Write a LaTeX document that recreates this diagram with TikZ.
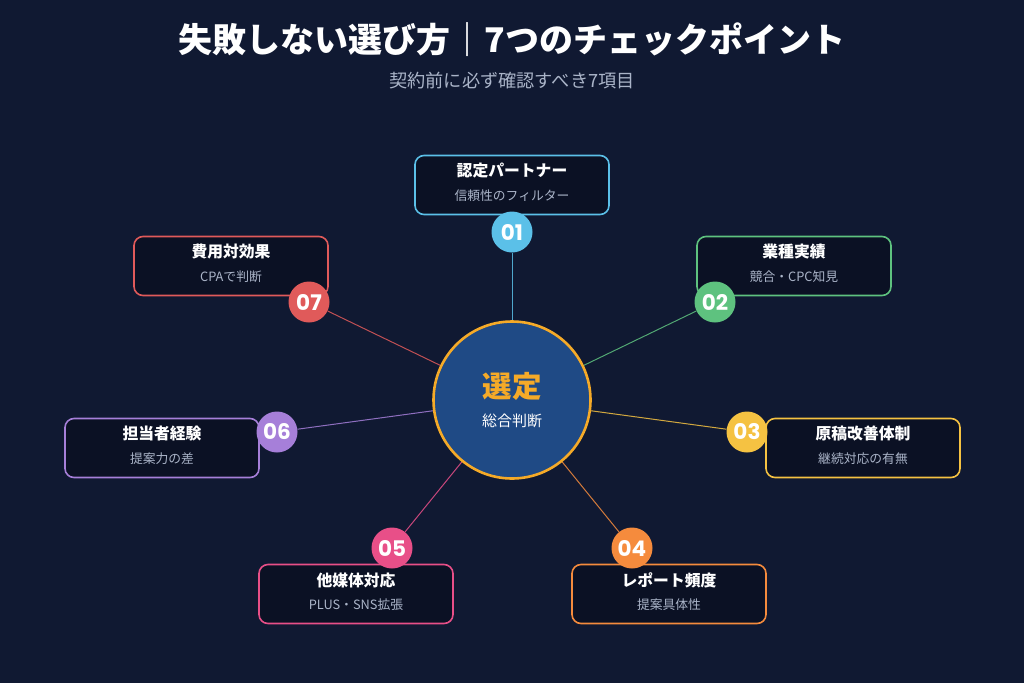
\documentclass[tikz,border=0pt]{standalone}
\usepackage{fontspec}
\setmainfont{Noto Sans CJK JP}
\newfontfamily\numfont{Poppins}
\pgfdeclarelayer{bg}
\pgfdeclarelayer{lines}
\pgfsetlayers{bg,lines,main}
\definecolor{bgc}{RGB}{16,25,50}
\definecolor{boxfill}{RGB}{11,17,36}
\definecolor{circfill}{RGB}{31,74,133}
\definecolor{gold}{RGB}{245,170,40}
\definecolor{subgray}{RGB}{170,180,200}
\definecolor{cA}{RGB}{91,192,232}
\definecolor{cB}{RGB}{94,194,127}
\definecolor{cC}{RGB}{245,194,66}
\definecolor{cD}{RGB}{245,139,61}
\definecolor{cE}{RGB}{232,79,136}
\definecolor{cF}{RGB}{166,127,217}
\definecolor{cG}{RGB}{224,90,90}
\tikzset{
  card/.style={draw=#1, line width=1.6pt, fill=boxfill, rounded corners=9pt,
    minimum width=194pt, minimum height=59pt, inner sep=0pt},
  badge/.style={circle, fill=#1, minimum size=41pt, inner sep=0pt, text=white,
    font=\numfont\bfseries\fontsize{21.5}{22}\selectfont},
  spoke/.style={draw=#1, line width=1pt, opacity=0.85},
  ttl/.style={text=white, font=\bfseries\fontsize{15.8}{17}\selectfont},
  sub/.style={text=subgray, font=\fontsize{12.8}{14}\selectfont},
}
\begin{document}
\begin{tikzpicture}[x=1pt,y=-1pt]
\begin{pgfonlayer}{bg}
\fill[bgc] (0,0) rectangle (1024,683);
\end{pgfonlayer}
\useasboundingbox (0,0) rectangle (1024,683);

\node[text=white, font=\bfseries\fontsize{34}{40}\selectfont] (title) at (512,40) {失敗しない選び方｜7つのチェックポイント};
\node[text=subgray, font=\fontsize{18.2}{20}\selectfont] (subtitle) at (512,81) {契約前に必ず確認すべき7項目};

% center
\node[circle, draw=gold, line width=2.6pt, fill=circfill, minimum size=157pt, inner sep=0pt] (c) at (512,400) {};
\node[text=gold, font=\bfseries\fontsize{29.5}{31}\selectfont] (ct) at (512,386) {選定};
\node[text=white, font=\fontsize{15}{16}\selectfont] (cs) at (512,421) {総合判断};

% cards
\node[card=cA] (k1) at (512,185) {};
\node[ttl] (k1t) at (512,171) {認定パートナー};
\node[sub] (k1s) at (512,196) {信頼性のフィルター};

\node[card=cB] (k2) at (794,266) {};
\node[ttl] (k2t) at (794,252) {業種実績};
\node[sub] (k2s) at (794,277) {競合・CPC知見};

\node[card=cC] (k3) at (863,448) {};
\node[ttl] (k3t) at (863,434) {原稿改善体制};
\node[sub] (k3s) at (863,459) {継続対応の有無};

\node[card=cD] (k4) at (669,594) {};
\node[ttl] (k4t) at (669,580) {レポート頻度};
\node[sub] (k4s) at (669,605) {提案具体性};

\node[card=cE] (k5) at (356,594) {};
\node[ttl] (k5t) at (356,580) {他媒体対応};
\node[sub] (k5s) at (356,605) {PLUS・SNS拡張};

\node[card=cF] (k6) at (162,448) {};
\node[ttl] (k6t) at (162,434) {担当者経験};
\node[sub] (k6s) at (162,459) {提案力の差};

\node[card=cG] (k7) at (231,266) {};
\node[ttl] (k7t) at (231,252) {費用対効果};
\node[sub] (k7s) at (231,277) {CPAで判断};

% badges
\node[badge=cA] (b1) at (512,232) {01};
\node[badge=cB] (b2) at (715,302) {02};
\node[badge=cC] (b3) at (747,432) {03};
\node[badge=cD] (b4) at (632,548) {04};
\node[badge=cE] (b5) at (392,548) {05};
\node[badge=cF] (b6) at (277,432) {06};
\node[badge=cG] (b7) at (309,302) {07};

\begin{pgfonlayer}{lines}
\draw[spoke=cA] (b1) -- (c);
\draw[spoke=cB] (b2) -- (c);
\draw[spoke=cC] (b3) -- (c);
\draw[spoke=cD] (b4) -- (c);
\draw[spoke=cE] (b5) -- (c);
\draw[spoke=cF] (b6) -- (c);
\draw[spoke=cG] (b7) -- (c);
\end{pgfonlayer}
\end{tikzpicture}
\end{document}
